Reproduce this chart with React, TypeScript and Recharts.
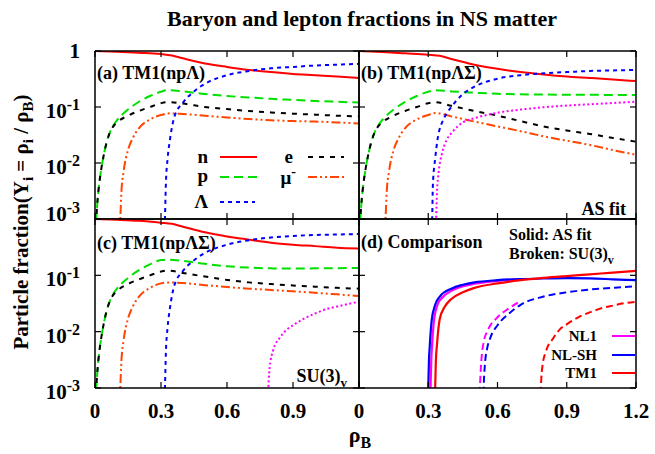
import React from "react";
import { LineChart, Line, XAxis, YAxis } from "recharts";

const W = 655;
const H = 454;
const FONT = "'Liberation Serif', 'Times New Roman', serif";

type Pt = [number, number];

// shared low-density part (npe before hyperons) for all TM1 panels
const lowP: Pt[] = [
  [0.003, 0.0005], [0.006, 0.001], [0.01, 0.0018], [0.02, 0.0045], [0.03, 0.0085],
  [0.04, 0.014], [0.055, 0.025], [0.07, 0.037], [0.085, 0.048], [0.1, 0.058], [0.15, 0.09],
  [0.2, 0.124], [0.25, 0.157], [0.3, 0.187], [0.33, 0.2],
];
const lowE: Pt[] = [
  [0.003, 0.0005], [0.006, 0.001], [0.01, 0.0018], [0.02, 0.0045], [0.03, 0.0085],
  [0.04, 0.014], [0.055, 0.025], [0.07, 0.037], [0.085, 0.046], [0.1, 0.053], [0.15, 0.07],
  [0.2, 0.085], [0.25, 0.1], [0.3, 0.117], [0.33, 0.122],
];
const lowMu: Pt[] = [
  [0.112, 0.0005], [0.115, 0.001], [0.12, 0.003], [0.13, 0.007], [0.15, 0.017],
  [0.17, 0.027], [0.2, 0.042], [0.25, 0.06], [0.3, 0.072], [0.34, 0.077],
];

// (a) TM1(npΛ)
const aN: Pt[] = [[0, 1], [0.1, 0.97], [0.2, 0.93], [0.3, 0.88], [0.35, 0.83], [0.4, 0.74], [0.5, 0.6], [0.6, 0.52], [0.7, 0.46], [0.8, 0.42], [0.9, 0.39], [1.0, 0.37], [1.1, 0.35], [1.2, 0.33]];
const aP: Pt[] = [[0.4, 0.19], [0.5, 0.17], [0.6, 0.157], [0.7, 0.148], [0.8, 0.14], [0.9, 0.134], [1.0, 0.128], [1.1, 0.124], [1.2, 0.12]];
const aE: Pt[] = [[0.4, 0.115], [0.5, 0.1], [0.6, 0.092], [0.7, 0.085], [0.8, 0.08], [0.9, 0.076], [1.0, 0.073], [1.1, 0.07], [1.2, 0.068]];
const aMu: Pt[] = [[0.4, 0.075], [0.5, 0.07], [0.6, 0.065], [0.7, 0.061], [0.8, 0.058], [0.9, 0.056], [1.0, 0.055], [1.1, 0.053], [1.2, 0.051]];
const aL: Pt[] = [[0.316, 0.0005], [0.318, 0.001], [0.322, 0.004], [0.33, 0.012], [0.34, 0.025], [0.36, 0.065], [0.4, 0.12], [0.45, 0.19], [0.5, 0.26], [0.6, 0.37], [0.7, 0.44], [0.8, 0.49], [0.9, 0.52], [1.0, 0.55], [1.1, 0.57], [1.2, 0.59]];

// (b) TM1(npΛΣ), AS fit
const bN: Pt[] = [[0, 1], [0.1, 0.96], [0.2, 0.91], [0.3, 0.86], [0.35, 0.82], [0.4, 0.72], [0.5, 0.57], [0.6, 0.48], [0.7, 0.42], [0.8, 0.38], [0.9, 0.35], [1.0, 0.33], [1.1, 0.31], [1.2, 0.29]];
const bP: Pt[] = [[0.4, 0.19], [0.5, 0.18], [0.6, 0.172], [0.8, 0.167], [1.0, 0.165], [1.2, 0.164]];
const bE: Pt[] = [[0.4, 0.105], [0.5, 0.085], [0.6, 0.07], [0.7, 0.056], [0.8, 0.045], [0.9, 0.038], [1.0, 0.033], [1.1, 0.028], [1.2, 0.024]];
const bMu: Pt[] = [[0.4, 0.068], [0.5, 0.055], [0.6, 0.045], [0.7, 0.037], [0.8, 0.03], [0.9, 0.025], [1.0, 0.021], [1.1, 0.017], [1.2, 0.014]];
const bL: Pt[] = [[0.315, 0.0005], [0.317, 0.001], [0.32, 0.004], [0.33, 0.012], [0.34, 0.026], [0.37, 0.065], [0.4, 0.1], [0.45, 0.17], [0.5, 0.23], [0.6, 0.32], [0.7, 0.37], [0.8, 0.4], [0.9, 0.42], [1.0, 0.44], [1.1, 0.45], [1.2, 0.46]];
const bS: Pt[] = [[0.332, 0.0005], [0.334, 0.001], [0.338, 0.003], [0.345, 0.0068], [0.36, 0.015], [0.38, 0.026], [0.4, 0.034], [0.45, 0.053], [0.5, 0.063], [0.6, 0.079], [0.7, 0.09], [0.8, 0.099], [0.9, 0.106], [1.0, 0.112], [1.1, 0.118], [1.2, 0.124]];

// (c) TM1(npΛΣ), SU(3)v
const cN: Pt[] = [[0, 1], [0.1, 0.97], [0.2, 0.93], [0.3, 0.86], [0.35, 0.82], [0.4, 0.73], [0.5, 0.58], [0.6, 0.49], [0.7, 0.43], [0.8, 0.38], [0.9, 0.35], [1.0, 0.33], [1.1, 0.31], [1.2, 0.3]];
const cP: Pt[] = [[0.4, 0.18], [0.5, 0.16], [0.6, 0.145], [0.7, 0.137], [0.8, 0.133], [0.9, 0.132], [1.0, 0.133], [1.1, 0.134], [1.2, 0.135]];
const cE: Pt[] = [[0.4, 0.11], [0.5, 0.095], [0.6, 0.083], [0.7, 0.075], [0.8, 0.07], [0.9, 0.066], [1.0, 0.063], [1.1, 0.06], [1.2, 0.058]];
const cMu: Pt[] = [[0.4, 0.073], [0.5, 0.067], [0.6, 0.062], [0.7, 0.058], [0.8, 0.055], [0.9, 0.052], [1.0, 0.049], [1.1, 0.046], [1.2, 0.043]];
const cL: Pt[] = [[0.316, 0.0005], [0.318, 0.001], [0.322, 0.004], [0.33, 0.012], [0.34, 0.025], [0.36, 0.065], [0.4, 0.12], [0.45, 0.185], [0.5, 0.25], [0.6, 0.35], [0.7, 0.42], [0.8, 0.47], [0.9, 0.5], [1.0, 0.52], [1.1, 0.53], [1.2, 0.54]];
const cS: Pt[] = [[0.786, 0.0005], [0.788, 0.001], [0.795, 0.0025], [0.81, 0.0047], [0.84, 0.0078], [0.87, 0.0107], [0.9, 0.013], [0.95, 0.017], [1.0, 0.021], [1.05, 0.025], [1.1, 0.028], [1.15, 0.031], [1.2, 0.034]];

// (d) comparison of Σ- fraction
const dNL1As: Pt[] = [[0.308, 0.0005], [0.31, 0.001], [0.313, 0.003], [0.317, 0.006], [0.325, 0.016], [0.34, 0.03], [0.36, 0.04], [0.4, 0.053], [0.45, 0.064], [0.5, 0.071], [0.6, 0.08], [0.7, 0.085]];
const dNLSHAs: Pt[] = [[0.298, 0.0005], [0.3, 0.001], [0.303, 0.003], [0.307, 0.006], [0.315, 0.016], [0.33, 0.03], [0.35, 0.042], [0.4, 0.058], [0.45, 0.068], [0.5, 0.075], [0.6, 0.082], [0.7, 0.086], [0.8, 0.088], [0.9, 0.089], [1.0, 0.088], [1.1, 0.085], [1.2, 0.082]];
const dTM1As: Pt[] = [[0.328, 0.0005], [0.33, 0.001], [0.333, 0.003], [0.338, 0.006], [0.35, 0.017], [0.37, 0.027], [0.4, 0.038], [0.45, 0.05], [0.5, 0.06], [0.6, 0.072], [0.7, 0.082], [0.8, 0.09], [0.9, 0.097], [1.0, 0.104], [1.1, 0.112], [1.2, 0.12]];
const dNL1Su: Pt[] = [[0.522, 0.0005], [0.524, 0.001], [0.53, 0.003], [0.54, 0.0065], [0.56, 0.011], [0.6, 0.018], [0.65, 0.026], [0.7, 0.035]];
const dNLSHSu: Pt[] = [[0.538, 0.0005], [0.54, 0.001], [0.545, 0.0025], [0.555, 0.005], [0.57, 0.008], [0.6, 0.013], [0.65, 0.021], [0.7, 0.03], [0.8, 0.042], [0.9, 0.05], [1.0, 0.056], [1.1, 0.06], [1.2, 0.064]];
const dTM1Su: Pt[] = [[0.786, 0.0005], [0.788, 0.001], [0.795, 0.0025], [0.81, 0.0045], [0.84, 0.0075], [0.87, 0.011], [0.9, 0.0135], [0.95, 0.018], [1.0, 0.022], [1.05, 0.026], [1.1, 0.029], [1.15, 0.032], [1.2, 0.034]];

const xTicks = [0, 0.3, 0.6, 0.9, 1.2];
const yTicks = [0.001, 0.01, 0.1, 1];

const RED = "#ff0000";
const GREEN = "#00e000";
const BLUE = "#0000ff";
const BLACK = "#000000";
const ORANGE = "#ff4500";
const MAGENTA = "#ff00ff";

const ST = {
  n: { stroke: RED, dash: undefined },
  p: { stroke: GREEN, dash: "9 5" },
  e: { stroke: BLACK, dash: "5 6" },
  mu: { stroke: ORANGE, dash: "9 3 2 3 2 3" },
  L: { stroke: BLUE, dash: "4 4" },
  S: { stroke: MAGENTA, dash: "2 2.5" },
};

type Series = { name: string; pts: Pt[]; stroke: string; dash?: string; width?: number };

const toData = (pts: Pt[]) => pts.map(([x, y]) => ({ x, y }));

const panelA: Series[] = [
  { name: "n", pts: aN, ...ST.n },
  { name: "p", pts: [...lowP, ...aP], ...ST.p },
  { name: "e", pts: [...lowE, ...aE], ...ST.e },
  { name: "mu", pts: [...lowMu, ...aMu], ...ST.mu },
  { name: "L", pts: aL, ...ST.L },
];
const panelB: Series[] = [
  { name: "n", pts: bN, ...ST.n },
  { name: "p", pts: [...lowP, ...bP], ...ST.p },
  { name: "e", pts: [...lowE, ...bE], ...ST.e },
  { name: "mu", pts: [...lowMu.slice(0, -1), [0.33, 0.078], ...bMu], ...ST.mu },
  { name: "L", pts: bL, ...ST.L },
  { name: "S", pts: bS, ...ST.S },
];
const panelC: Series[] = [
  { name: "n", pts: cN, ...ST.n },
  { name: "p", pts: [...lowP.slice(0, -1), [0.33, 0.19], ...cP], ...ST.p },
  { name: "e", pts: [...lowE, ...cE], ...ST.e },
  { name: "mu", pts: [...lowMu.slice(0, -1), [0.34, 0.075], ...cMu], ...ST.mu },
  { name: "L", pts: cL, ...ST.L },
  { name: "S", pts: cS, ...ST.S },
];
const panelD: Series[] = [
  { name: "nl1as", pts: dNL1As, stroke: MAGENTA, width: 2.2 },
  { name: "nlshas", pts: dNLSHAs, stroke: BLUE, width: 2.2 },
  { name: "tm1as", pts: dTM1As, stroke: RED, width: 2.2 },
  { name: "nl1su", pts: dNL1Su, stroke: MAGENTA, dash: "7 4", width: 2 },
  { name: "nlshsu", pts: dNLSHSu, stroke: BLUE, dash: "7 4", width: 2 },
  { name: "tm1su", pts: dTM1Su, stroke: RED, dash: "7 4", width: 2 },
];

const txt = { fontFamily: FONT, fontWeight: "bold" as const, fill: "#000" };

function fmtX(v: number) {
  return v === 0 ? "0" : v.toFixed(1);
}

// axis band sizes around each plot box
const LW = 60;
const RW = 8;
const TH = 8;
const BH = 40;

type PanelProps = {
  box: [number, number, number, number];
  series: Series[];
  xLabels: number[];
  yLabels: number[];
  raiseLowest?: boolean;
};

function Panel({ box, series, xLabels, yLabels, raiseLowest }: PanelProps) {
  const [x0, y0, x1, y1] = box;

  const bottomTick = (p: any) => {
    const v = p.payload.value;
    return (
      <g>
        <line x1={p.x} x2={p.x} y1={p.y} y2={p.y - 6} stroke="#000" strokeWidth={1.2} />
        {xLabels.includes(v) && (
          <text x={p.x} y={p.y + 30} textAnchor="middle" fontSize={21} {...txt}>
            {fmtX(v)}
          </text>
        )}
      </g>
    );
  };
  const topTick = (p: any) => (
    <line x1={p.x} x2={p.x} y1={p.y} y2={p.y + 6} stroke="#000" strokeWidth={1.2} />
  );
  const leftTick = (p: any) => {
    const v = p.payload.value;
    const ex = Math.round(Math.log10(v));
    const dyBase = raiseLowest && v === 0.001 ? 2 : 11;
    return (
      <g>
        <line x1={p.x} x2={p.x + 6} y1={p.y} y2={p.y} stroke="#000" strokeWidth={1.2} />
        {yLabels.includes(v) &&
          (ex === 0 ? (
            <text x={p.x - 15} y={p.y + 7} textAnchor="end" fontSize={21} {...txt}>1</text>
          ) : (
            <text x={p.x - 15} y={p.y + dyBase} textAnchor="end" fontSize={21} {...txt}>
              10<tspan dy={-8} fontSize={16}>{String(ex)}</tspan>
            </text>
          ))}
      </g>
    );
  };
  const rightTick = (p: any) => (
    <line x1={p.x} x2={p.x - 6} y1={p.y} y2={p.y} stroke="#000" strokeWidth={1.2} />
  );

  const axisLine = { stroke: "#000", strokeWidth: 1.5 };

  return (
    <div style={{ position: "absolute", left: 0, top: 0 }}>
      <LineChart
        width={W}
        height={H}
        margin={{ top: y0 - TH, left: x0 - LW, right: W - x1 - RW, bottom: H - y1 - BH }}
      >
        <XAxis xAxisId="b" type="number" dataKey="x" domain={[0, 1.2]} ticks={xTicks}
          allowDataOverflow height={BH} interval={0} tickSize={0} tickMargin={0}
          tickLine={false} axisLine={axisLine} tick={bottomTick} />
        <XAxis xAxisId="t" orientation="top" type="number" dataKey="x" domain={[0, 1.2]} ticks={xTicks}
          allowDataOverflow height={TH} interval={0} tickSize={0} tickMargin={0}
          tickLine={false} axisLine={axisLine} tick={topTick} />
        <YAxis yAxisId="l" type="number" scale="log" domain={[0.001, 1]} ticks={yTicks}
          allowDataOverflow width={LW} interval={0} tickSize={0} tickMargin={0}
          tickLine={false} axisLine={axisLine} tick={leftTick} />
        <YAxis yAxisId="r" orientation="right" type="number" scale="log" domain={[0.001, 1]} ticks={yTicks}
          allowDataOverflow width={RW} interval={0} tickSize={0} tickMargin={0}
          tickLine={false} axisLine={axisLine} tick={rightTick} />
        {series.map((s) => (
          <Line
            key={s.name}
            xAxisId="b"
            yAxisId="l"
            data={toData(s.pts)}
            dataKey="y"
            type="monotone"
            stroke={s.stroke}
            strokeWidth={s.width ?? 2}
            strokeDasharray={s.dash}
            dot={false}
            activeDot={false}
            isAnimationActive={false}
          />
        ))}
      </LineChart>
    </div>
  );
}

function Overlay() {
  return (
    <svg width={W} height={H} style={{ position: "absolute", left: 0, top: 0 }}>
      <text x={362} y={26} textAnchor="middle" fontSize={22} {...txt}>
        Baryon and lepton fractions in NS matter
      </text>
      <text transform="translate(28,222) rotate(-90)" textAnchor="middle" fontSize={21} {...txt}>
        Particle fraction(Y<tspan dy={5} fontSize={15}>i</tspan>
        <tspan dy={-5}> = ρ</tspan><tspan dy={5} fontSize={15}>i</tspan>
        <tspan dy={-5}> / ρ</tspan><tspan dy={5} fontSize={15}>B</tspan>
        <tspan dy={-5}>)</tspan>
      </text>
      <text x={360} y={442} textAnchor="middle" fontSize={22} {...txt}>
        ρ<tspan dy={6} fontSize={16}>B</tspan>
      </text>

      {/* panel labels */}
      <text x={97} y={79} fontSize={18} {...txt}>(a) TM1(npΛ)</text>
      <text x={361} y={79} fontSize={18} {...txt}>(b) TM1(npΛΣ)</text>
      <text x={97} y={249} fontSize={18} {...txt}>(c) TM1(npΛΣ)</text>
      <text x={361} y={248} fontSize={18} {...txt}>(d) Comparison</text>
      <text x={626} y={215} textAnchor="end" fontSize={18} {...txt}>AS fit</text>
      <text x={347} y={382} textAnchor="end" fontSize={18} {...txt}>
        SU(3)<tspan dy={5} fontSize={13}>v</tspan>
      </text>
      <text x={509} y={240} fontSize={16} {...txt}>Solid: AS fit</text>
      <text x={509} y={259} fontSize={16} {...txt}>
        Broken: SU(3)<tspan dy={5} fontSize={12}>v</tspan>
      </text>

      {/* key, panel (a) */}
      <text x={208} y={163} textAnchor="end" fontSize={19} {...txt}>n</text>
      <line x1={220} x2={257} y1={157} y2={157} stroke={RED} strokeWidth={2} />
      <text x={208} y={182} textAnchor="end" fontSize={19} {...txt}>p</text>
      <line x1={220} x2={257} y1={177} y2={177} stroke={GREEN} strokeWidth={2} strokeDasharray="9 5" />
      <text x={208} y={208} textAnchor="end" fontSize={19} {...txt}>Λ</text>
      <line x1={220} x2={255} y1={202} y2={202} stroke={BLUE} strokeWidth={2} strokeDasharray="4 4" />
      <text x={293} y={163} textAnchor="end" fontSize={19} {...txt}>e</text>
      <line x1={308} x2={344} y1={157} y2={157} stroke={BLACK} strokeWidth={2} strokeDasharray="5 6" />
      <text x={296} y={184} textAnchor="end" fontSize={19} {...txt}>
        μ<tspan dy={-8} fontSize={14}>-</tspan>
      </text>
      <line x1={308} x2={346} y1={177} y2={177} stroke={ORANGE} strokeWidth={2} strokeDasharray="9 3 2 3 2 3" />

      {/* key, panel (d) */}
      <text x={597} y={341} textAnchor="end" fontSize={15} {...txt}>NL1</text>
      <line x1={612} x2={635} y1={336} y2={336} stroke={MAGENTA} strokeWidth={2} />
      <text x={597} y={360} textAnchor="end" fontSize={15} {...txt}>NL-SH</text>
      <line x1={612} x2={635} y1={355} y2={355} stroke={BLUE} strokeWidth={2} />
      <text x={597} y={378} textAnchor="end" fontSize={15} {...txt}>TM1</text>
      <line x1={612} x2={635} y1={373} y2={373} stroke={RED} strokeWidth={2} />
    </svg>
  );
}

export default function App() {
  return (
    <div style={{ position: "absolute", left: 0, top: 0, width: W, height: H, background: "#fff" }}>
      <Panel box={[95, 51, 359, 219]} series={panelA} xLabels={[]} yLabels={[1, 0.1, 0.01, 0.001]} raiseLowest />
      <Panel box={[359, 51, 636, 219]} series={panelB} xLabels={[]} yLabels={[]} />
      <Panel box={[95, 219, 359, 388]} series={panelC} xLabels={[0, 0.3, 0.6, 0.9]} yLabels={[0.1, 0.01, 0.001]} />
      <Panel box={[359, 219, 636, 388]} series={panelD} xLabels={[0, 0.3, 0.6, 0.9, 1.2]} yLabels={[]} />
      <Overlay />
    </div>
  );
}
